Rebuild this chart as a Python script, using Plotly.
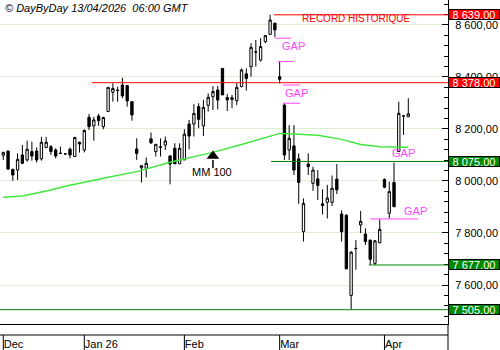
import plotly.graph_objects as go

# ---------------- data ----------------
opens  = [8099, 8115, 8045, 8042, 8100, 8081, 8113, 8115, 8085, 8129,
          8132, 8119, 8107, 8104, 8122, 8094, 8149, 8119, 8245, 8212,
          8250, 8209, 8267, 8341, 8350, 8369, 8367, 8305, 8123, 8051,
          8049, 8162, 8113, 8132, 8138, 8096, 8126, 8066, 8081, 8219,
          8219, 8286, 8212, 8291, 8324, 8350, 8433, 8321, 8320, 8309,
          8363, 8412, 8440, 8497, 8465, 8536, 8564, 8607, 8401, 8292,
          8119, 8135, 8085, 7805, 8065, 7991, 8008, 7912, 7918, 7918,
          8007, 7873, 7868, 7560, 7741, 7831, 7796, 7773, 7683, 7763,
          8006, 7876, 7994, 8113, 8250, 8247]
highs  = [8113, 8117, 8046, 8106, 8138, 8155, 8151, 8129, 8170, 8170,
          8138, 8126, 8132, 8106, 8129, 8170, 8151, 8199, 8258, 8247,
          8258, 8247, 8360, 8376, 8363, 8397, 8367, 8305, 8164, 8059,
          8090, 8186, 8141, 8164, 8171, 8100, 8145, 8145, 8199, 8235,
          8295, 8299, 8312, 8337, 8365, 8365, 8433, 8335, 8331, 8376,
          8433, 8433, 8530, 8542, 8549, 8559, 8639, 8607, 8459, 8299,
          8215, 8215, 8106, 7933, 8106, 8055, 8042, 7968, 7985, 8021,
          8065, 7887, 7873, 7730, 7773, 7885, 7818, 7773, 7773, 7853,
          8010, 7997, 8071, 8305, 8254, 8318]
lows   = [8081, 8042, 8001, 8004, 8065, 8074, 8078, 8071, 8078, 8126,
          8100, 8087, 8104, 8102, 8087, 8094, 8109, 8110, 8196, 8155,
          8212, 8199, 8267, 8305, 8305, 8318, 8286, 8232, 8081, 7994,
          8014, 8142, 8094, 8094, 8119, 7987, 8066, 8066, 8081, 8122,
          8171, 8203, 8173, 8267, 8273, 8276, 8331, 8269, 8280, 8292,
          8360, 8348, 8401, 8440, 8459, 8530, 8561, 8553, 8375, 8081,
          8081, 8023, 7912, 7767, 8023, 7962, 7927, 7871, 7856, 7904,
          7950, 7767, 7662, 7505, 7659, 7800, 7754, 7677, 7677, 7760,
          7972, 7856, 7901, 8113, 8177, 8247]
closes = [8109, 8046, 8023, 8083, 8068, 8122, 8096, 8081, 8149, 8149,
          8113, 8096, 8106, 8104, 8100, 8167, 8142, 8194, 8209, 8235,
          8232, 8244, 8360, 8356, 8348, 8327, 8308, 8254, 8106, 8059,
          8068, 8147, 8141, 8130, 8154, 8065, 8066, 8126, 8180, 8173,
          8260, 8237, 8283, 8322, 8344, 8311, 8331, 8312, 8314, 8360,
          8427, 8394, 8514, 8496, 8517, 8559, 8619, 8581, 8391, 8100,
          8164, 8042, 7994, 7914, 8055, 8042, 7983, 7906, 7934, 7972,
          7966, 7805, 7662, 7726, 7740, 7845, 7767, 7699, 7770, 7814,
          7976, 7959, 7901, 8260, 8250, 8258]

# 100-day moving average, read at a few candle positions
ma_idx = [0, 4, 10, 13, 22, 28, 35, 44, 50, 58, 62, 66, 71, 75, 79, 85]
ma_val = [7937, 7942, 7965, 7980, 8014, 8036, 8072, 8110, 8140, 8183,
          8180, 8176, 8160, 8140, 8132, 8130]

month_idx = [0, 17, 38, 58, 80]
month_lbl = ["Dec", "Jan 26", "Feb", "Mar", "Apr"]

# key levels (value, colour, start position)
level_val = [8639, 8378, 8075, 7677, 7505]
level_col = ["#ff0000", "#ff0000", "#008800", "#008800", "#008800"]
level_x0 = [56.8, 18.6, 56.2, 76.7, -0.7]

# gap markers
gap_line_val = [8549, 8459, 8369, 8299, 7854]
gap_line_x0 = [57.0, 57.6, 58.7, 58.7, 77.0]
gap_line_x1 = [60.4, 60.8, 62.3, 62.3, 87.0]
gap_txt_x = [58.1, 58.7, 81.2, 83.7]
gap_txt_v = [8519, 8338, 8109, 7885]

GAP_COL = "#ff44ff"
FONT = "Liberation Sans, Arial, sans-serif"

x = list(range(len(closes)))
X0, X1 = -0.69, 93.33
Y0, Y1 = 7450, 8696

fig = go.Figure()

fig.add_trace(go.Scatter(x=ma_idx, y=ma_val, mode="lines",
                         line=dict(color="#3ee83e", width=1.5),
                         hoverinfo="skip", showlegend=False))

fig.add_trace(go.Candlestick(
    x=x, open=opens, high=highs, low=lows, close=closes,
    increasing=dict(line=dict(color="black", width=1), fillcolor="white"),
    decreasing=dict(line=dict(color="black", width=1), fillcolor="black"),
    whiskerwidth=0, showlegend=False))

# MM 100 arrow
fig.add_trace(go.Scatter(x=[44, 44], y=[8081, 8050], mode="lines",
                         line=dict(color="black", width=1.5),
                         hoverinfo="skip", showlegend=False))
fig.add_trace(go.Scatter(x=[44], y=[8096], mode="markers",
                         marker=dict(symbol="triangle-up", size=11, color="black"),
                         hoverinfo="skip", showlegend=False))

shapes = []
for v, c, x0 in zip(level_val, level_col, level_x0):
    shapes.append(dict(type="line", xref="x", yref="y", x0=x0, x1=X1,
                       y0=v, y1=v, line=dict(color=c, width=1), layer="above"))
for v, a, b in zip(gap_line_val, gap_line_x0, gap_line_x1):
    shapes.append(dict(type="line", xref="x", yref="y", x0=a, x1=b,
                       y0=v, y1=v, line=dict(color=GAP_COL, width=1)))

# bottom strip and month separators
H = 324.0
shapes.append(dict(type="line", xref="paper", yref="paper", x0=0, x1=1,
                   y0=-11 / H, y1=-11 / H, line=dict(color="black", width=1)))
shapes.append(dict(type="line", xref="paper", yref="paper", x0=1, x1=1,
                   y0=-26 / H, y1=0, line=dict(color="black", width=1)))
for m in month_idx:
    shapes.append(dict(type="line", xref="x", yref="paper", x0=m, x1=m,
                       y0=-11 / H, y1=-26 / H, line=dict(color="black", width=1)))

annotations = []
annotations.append(dict(xref="paper", yref="paper", x=0.006, y=1,
                        yshift=-8, xanchor="left", yanchor="middle",
                        text="<i>© DayByDay 13/04/2026  06:00 GMT</i>", showarrow=False,
                        font=dict(family=FONT, size=11, color="black")))
for v, c in zip(level_val, level_col):
    annotations.append(dict(xref="paper", yref="y", x=1, y=v, xshift=-0.5,
                            xanchor="left", yanchor="middle",
                            text=f"{v:,.2f}".replace(",", " ").replace(".", ","),
                            showarrow=False, width=50, height=9, borderpad=0,
                            bgcolor=c, bordercolor="black", borderwidth=1,
                            font=dict(family=FONT, size=11, color="white")))
annotations.append(dict(xref="x", yref="y", x=62.3, y=8625, xanchor="left",
                        yanchor="middle", text="RECORD HISTORIQUE", showarrow=False,
                        font=dict(family=FONT, size=10, color="#ff0000")))
for gx, gv in zip(gap_txt_x, gap_txt_v):
    annotations.append(dict(xref="x", yref="y", x=gx, y=gv, xanchor="left",
                            yanchor="middle", text="GAP", showarrow=False,
                            font=dict(family=FONT, size=11, color=GAP_COL)))
annotations.append(dict(xref="x", yref="y", x=39.2, y=8034, xanchor="left",
                        yanchor="middle", text="MM 100", showarrow=False,
                        font=dict(family=FONT, size=11, color="black")))

fig.update_layout(
    width=500, height=350,
    margin=dict(l=0, r=52, t=0, b=26),
    paper_bgcolor="white", plot_bgcolor="white",
    separators=", ",
    font=dict(family=FONT, size=11, color="black"),
    showlegend=False,
    shapes=shapes, annotations=annotations,
    xaxis=dict(range=[X0, X1], showgrid=False, zeroline=False,
               rangeslider=dict(visible=False),
               showline=True, linecolor="black", linewidth=1,
               tickmode="array", tickvals=month_idx, ticktext=month_lbl,
               ticks="", ticklabelposition="outside right",
               ticklabelstandoff=10,
               tickfont=dict(family=FONT, size=11, color="black")),
    yaxis=dict(range=[Y0, Y1], side="right", showgrid=True,
               gridcolor="#dcf0d4", gridwidth=1, zeroline=False,
               showline=True, linecolor="black", linewidth=1,
               tick0=7600, dtick=200, tickformat=",.2f",
               ticks="inside", ticklen=6, tickcolor="black",
               ticklabelstandoff=4,
               minor=dict(dtick=40, tick0=7600, ticks="inside", ticklen=4,
                          tickcolor="black", showgrid=False),
               tickfont=dict(family=FONT, size=11, color="black")),
)

fig.write_html("out.html")
